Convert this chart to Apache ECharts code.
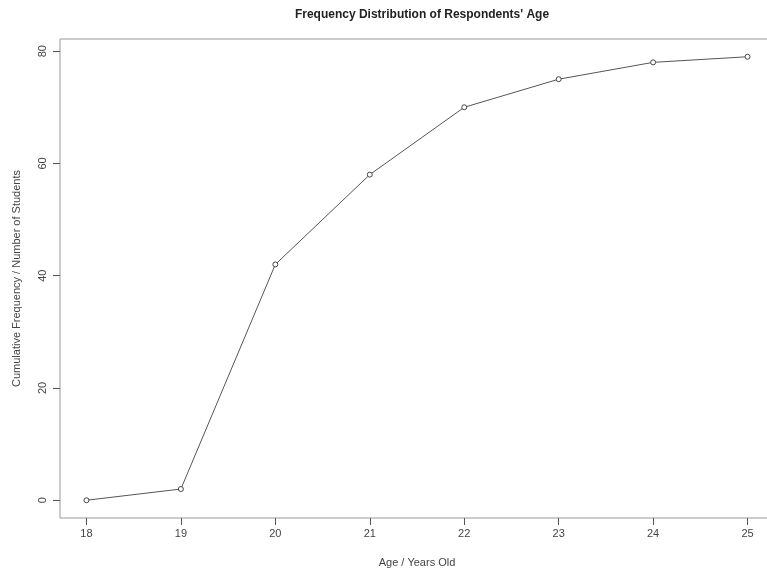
<!DOCTYPE html>
<html><head><meta charset="utf-8">
<script src="https://cdn.jsdelivr.net/npm/echarts@6/dist/echarts.min.js"></script>
<style>html,body{margin:0;padding:0;background:#fff}#c{width:767px;height:572px}</style>
</head><body><div id="c"></div>
<script>
const ages = [18, 19, 20, 21, 22, 23, 24, 25];
const cumFreq = [0, 2, 42, 58, 70, 75, 78, 79];
const xTicks = [18, 19, 20, 21, 22, 23, 24, 25];
const yTicks = [0, 20, 40, 60, 80];

const chart = echarts.init(document.getElementById('c'));
const font = 'Liberation Sans, Arial, sans-serif';
chart.setOption({
  animation: false,
  title: {
    text: "Frequency Distribution of Respondents' Age",
    left: 417, top: 4, textAlign: 'center',
    textStyle: { fontFamily: font, fontSize: 12, fontWeight: 'bold', color: '#222' }
  },
  grid: { left: 60, top: 39, width: 714, height: 479, outerBoundsMode: 'none', containLabel: false, show: true, borderColor: '#999', borderWidth: 1, backgroundColor: 'transparent' },
  xAxis: {
    type: 'value', min: 17.72, max: 25.28,
    name: 'Age / Years Old', nameLocation: 'middle', nameGap: 39,
    nameTextStyle: { fontFamily: font, fontSize: 11, color: '#444' },
    axisLine: { show: false, onZero: false },
    splitLine: { show: false },
    axisTick: { show: true, length: 7, customValues: xTicks, lineStyle: { color: '#555' } },
    axisLabel: { customValues: xTicks, margin: 10, fontFamily: font, fontSize: 11, color: '#444' }
  },
  yAxis: {
    type: 'value', min: -3.16, max: 82.16,
    name: 'Cumulative Frequency / Number of Students', nameLocation: 'middle', nameGap: 38, nameRotate: 90,
    nameTextStyle: { fontFamily: font, fontSize: 11, color: '#444' },
    axisLine: { show: false, onZero: false },
    splitLine: { show: false },
    axisTick: { show: true, length: 7, customValues: yTicks, lineStyle: { color: '#555' } },
    axisLabel: { customValues: yTicks, rotate: 90, margin: 17, fontFamily: font, fontSize: 11, color: '#444', verticalAlign: 'middle', align: 'center' }
  },
  series: [{
    type: 'line',
    data: ages.map((a, i) => [a, cumFreq[i]]),
    symbol: 'circle', symbolSize: 5,
    itemStyle: { color: '#fff', borderColor: '#444', borderWidth: 1 },
    lineStyle: { color: '#555', width: 1 }
  }]
});
</script></body></html>
